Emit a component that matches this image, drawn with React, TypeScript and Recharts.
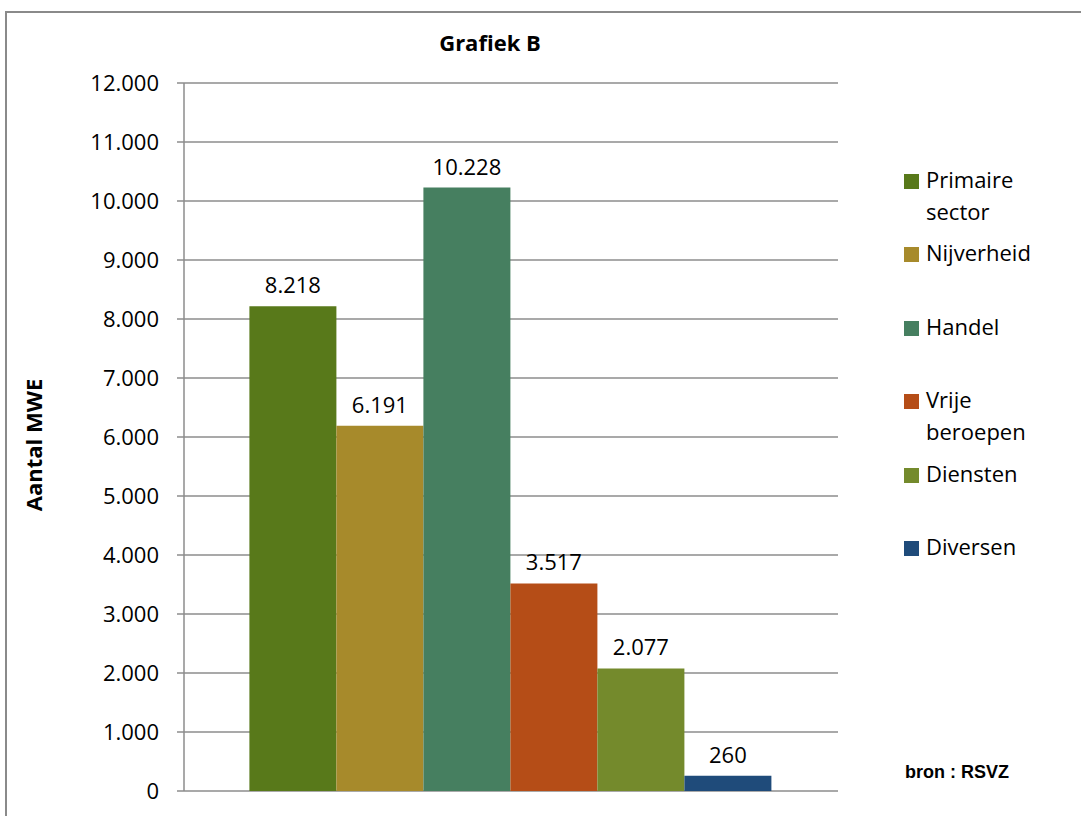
import { BarChart, Bar, XAxis, YAxis, CartesianGrid, LabelList } from "recharts";

// Sectoren en aantallen MWE
const sectors = ["Primaire sector", "Nijverheid", "Handel", "Vrije beroepen", "Diensten", "Diversen"];
const keys = ["primaire", "nijverheid", "handel", "vrije", "diensten", "diversen"];
const values = [8218, 6191, 10228, 3517, 2077, 260];
const colors = ["#58791a", "#a78a2b", "#467f60", "#b54d17", "#748a2c", "#1f4b7a"];
const yTicks = [0, 1000, 2000, 3000, 4000, 5000, 6000, 7000, 8000, 9000, 10000, 11000, 12000];

const row: Record<string, number | string> = { name: "MWE" };
keys.forEach((k, i) => {
  row[k] = values[i];
});
const data = [row];

const FONT = "'Open Sans', 'Noto Sans', sans-serif";
const GRID = "#8c8c8c";

// Nederlandse duizendtallen: 10.228
const fmt = (v: number) => String(v).replace(/\B(?=(\d{3})+(?!\d))/g, ".");

const LegendBox = () => (
  <div
    style={{
      position: "absolute",
      left: 904,
      top: 164,
      fontFamily: FONT,
      fontSize: 22,
      color: "#000",
      zIndex: 5,
    }}
  >
    {sectors.map((s, i) => (
      <div key={s} style={{ display: "flex", height: 73.4, alignItems: "flex-start" }}>
        <div
          style={{
            width: 15,
            height: 15,
            background: colors[i],
            marginTop: 10,
            marginRight: 7,
            flexShrink: 0,
          }}
        />
        <div style={{ width: 135, lineHeight: "32px", marginTop: -1 }}>{s}</div>
      </div>
    ))}
  </div>
);

const App = () => {
  return (
    <div
      style={{
        position: "absolute",
        left: 0,
        top: 0,
        width: 1081,
        height: 816,
        overflow: "hidden",
        background: "#fff",
      }}
    >
      <div style={{ position: "absolute", left: 0, top: 0 }}>
        <BarChart
          width={1081}
          height={816}
          data={data}
          margin={{ top: 83, right: 243, bottom: 25, left: 0 }}
          barCategoryGap="10%"
          barGap={0}
        >
          <CartesianGrid vertical={false} stroke={GRID} strokeWidth={1.5} />
          <XAxis dataKey="name" hide />
          <YAxis
            width={184}
            domain={[0, 12000]}
            ticks={yTicks}
            interval={0}
            tickFormatter={fmt}
            tick={{ fill: "#000", fontSize: 22, fontFamily: FONT }}
            tickSize={7}
            tickMargin={18}
            axisLine={{ stroke: GRID, strokeWidth: 1.5 }}
            tickLine={{ stroke: GRID, strokeWidth: 1.5 }}
            label={{
              value: "Aantal MWE",
              angle: -90,
              position: "insideLeft",
              offset: 34,
              dy: 8,
              style: { fontFamily: FONT, fontWeight: "bold", fontSize: 22, fill: "#000", textAnchor: "middle" },
            }}
          />
          {keys.map((k, i) => (
            <Bar key={k} dataKey={k} name={sectors[i]} fill={colors[i]} isAnimationActive={false}>
              <LabelList
                dataKey={k}
                position="top"
                offset={13}
                formatter={(v: any) => fmt(Number(v))}
                style={{ fill: "#000", fontSize: 22, fontFamily: FONT }}
              />
            </Bar>
          ))}
        </BarChart>
      </div>
      <LegendBox />
      <div
        style={{
          position: "absolute",
          left: 0,
          width: 980,
          top: 27,
          textAlign: "center",
          fontFamily: FONT,
          fontWeight: "bold",
          fontSize: 22,
        }}
      >
        Grafiek B
      </div>
      <div
        style={{
          position: "absolute",
          left: 905,
          top: 762,
          fontFamily: "'Liberation Sans', Arial, sans-serif",
          fontWeight: "bold",
          fontSize: 18,
        }}
      >
        bron : RSVZ
      </div>
      <div style={{ position: "absolute", left: 5, top: 11, width: 2, height: 805, background: "#8a8a8a", zIndex: 10 }} />
      <div style={{ position: "absolute", left: 5, top: 11, width: 1076, height: 2, background: "#8a8a8a", zIndex: 10 }} />
    </div>
  );
};

export default App;
